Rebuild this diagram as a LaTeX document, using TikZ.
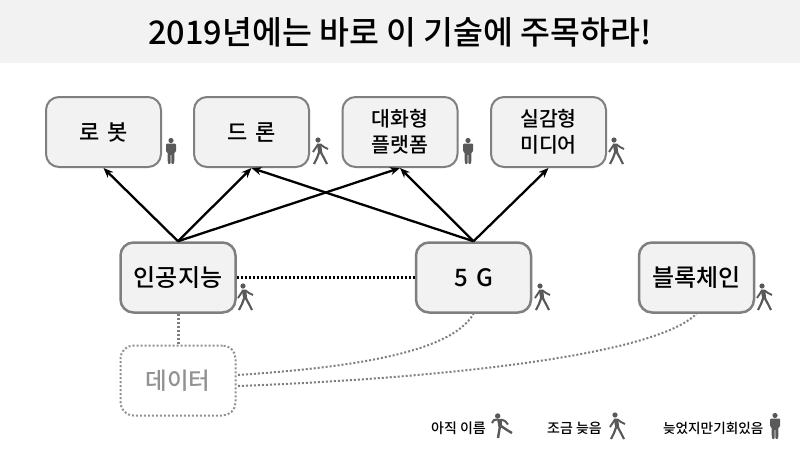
\documentclass[tikz,border=0pt]{standalone}
\usepackage{fontspec}
\setmainfont{Noto Sans CJK KR Medium}
\usetikzlibrary{arrows.meta}
\definecolor{boxfill}{HTML}{F2F2F2}
\definecolor{boxline}{HTML}{7F7F7F}
\definecolor{icon}{HTML}{595959}
\tikzset{
 x=1pt,y=-1pt,
 tech/.style={draw=boxline,line width=2pt,fill=boxfill,rounded corners=13pt,minimum width=115pt,minimum height=70pt,inner sep=0pt,align=center,text=black,font=\fontsize{22}{26}\selectfont},
 techsmall/.style={tech,font=\fontsize{20.5}{26}\selectfont},
 techmain/.style={tech,line width=2.5pt,font=\fontsize{24}{28}\selectfont},
 ghost/.style={draw=boxline!85,line width=2pt,dash pattern=on 2pt off 2pt,rounded corners=13pt,minimum width=115pt,minimum height=70pt,inner sep=0pt,text=boxline!85,font=\fontsize{23.5}{27}\selectfont},
 link/.style={-{Stealth[length=10pt,width=8pt]},line width=2.3pt,black},
 soft/.style={draw=boxline,line width=2pt,dash pattern=on 2pt off 2pt},
 legend/.style={inner sep=0pt,font=\fontsize{14}{16}\selectfont,text=black},
 stand/.pic={
  \fill[icon] (0,-10.5) circle (2.6);
  \fill[icon,rounded corners=1pt] (-5,-7.5) -- (5,-7.5) -- (5,1) -- (3.4,1) -- (3.2,13) -- (0.5,13) -- (0.3,3) -- (-0.3,3) -- (-0.5,13) -- (-3.2,13) -- (-3.4,1) -- (-5,1) -- cycle;
 },
 walk/.pic={
  \fill[icon] (-3,-12) circle (2.6);
  \fill[icon] (-4.2,-8.5) -- (0.2,-8.5) -- (1.2,1) -- (-2.8,1) -- cycle;
  \draw[icon,line width=1.9pt,line join=round] (-3,-7.5) -- (-8,0);
  \draw[icon,line width=1.9pt,line join=round] (-0.5,-7.5) -- (3,-5) -- (7,-3);
  \draw[icon,line width=2.2pt,line join=round] (-1.8,0) -- (-4,6) -- (-7,12);
  \draw[icon,line width=2.2pt,line join=round] (-0.3,0) -- (3,6) -- (6,12);
 },
 run/.pic={
  \fill[icon] (-4.3,-10) circle (2.7);
  \fill[icon] (-5,-7) -- (-0.2,-7) -- (0,1) -- (-3.5,1) -- cycle;
  \draw[icon,line width=2pt,line join=round] (-4.5,-6.5) -- (-8,-6) -- (-10,-3);
  \draw[icon,line width=2pt,line join=round] (-1,-6.5) -- (3,-5) -- (6,-1.5);
  \draw[icon,line width=2.4pt,line join=round] (-2,0) -- (-3,6) -- (-4,12);
  \draw[icon,line width=2.4pt,line join=round] (-1,0) -- (5,4) -- (10,7);
 },
}
\begin{document}
\begin{tikzpicture}
\useasboundingbox (0,0) rectangle (800,450);
\fill[white] (0,0) rectangle (800,450);
\fill[boxfill] (0,0) rectangle (800,63);
\node[inner sep=0pt,font=\fontsize{32.5}{36}\selectfont] (title) at (400,32) {2019년에는 바로 이 기술에 주목하라!};

\node[tech] (robot) at (103.5,132) {로\hspace{3pt} 봇};
\node[tech] (drone) at (251.5,132) {드\hspace{3pt} 론};
\node[techsmall] (chat) at (400,132) {대화형\\플랫폼};
\node[techsmall] (media) at (548.5,132) {실감형\\미디어};
\node[techmain] (ai) at (178,277.5) {인공지능};
\node[techmain] (fiveg) at (473.5,277.5) {5\hspace{3pt} G};
\node[techmain] (chain) at (696.5,277.5) {블록체인};
\node[ghost] (data) at (178,380.5) {데이터};

\coordinate (dataA) at (238,375);
\coordinate (dataB) at (238,386);

\draw[link] (ai.north) -- (robot.south);
\draw[link] (ai.north) -- (drone.south);
\draw[link] (ai.north) -- (chat.south);
\draw[link] (fiveg.north) -- (drone.south);
\draw[link] (fiveg.north) -- (chat.south);
\draw[link] (fiveg.north) -- (media.south);
\draw[line width=2.5pt,black,dash pattern=on 2pt off 2pt] (ai.east) -- (fiveg.west);
\draw[soft,line width=3pt] (ai.south) -- (data.north);
\draw[soft] (dataA) .. controls (340,368) and (450,355) .. (fiveg.south);
\draw[soft] (dataB) .. controls (400,380) and (650,360) .. (chain.south);

\pic at (171,151) {stand};
\pic at (321,152) {walk};
\pic at (468,151) {stand};
\pic at (617,152) {walk};
\pic at (246,298) {walk};
\pic at (543,298) {walk};
\pic at (765,298) {walk};

\node[legend,anchor=west] (late0) at (431,428) {아직 이름};
\pic at (502,426) {run};
\node[legend,anchor=west] (late1) at (547,428) {조금 늦음};
\pic at (618,427) {walk};
\node[legend,anchor=west,font=\fontsize{13.6}{16}\selectfont] (late2) at (663,428) {늦었지만기회있음};
\pic at (775,426) {stand};
\end{tikzpicture}
\end{document}
